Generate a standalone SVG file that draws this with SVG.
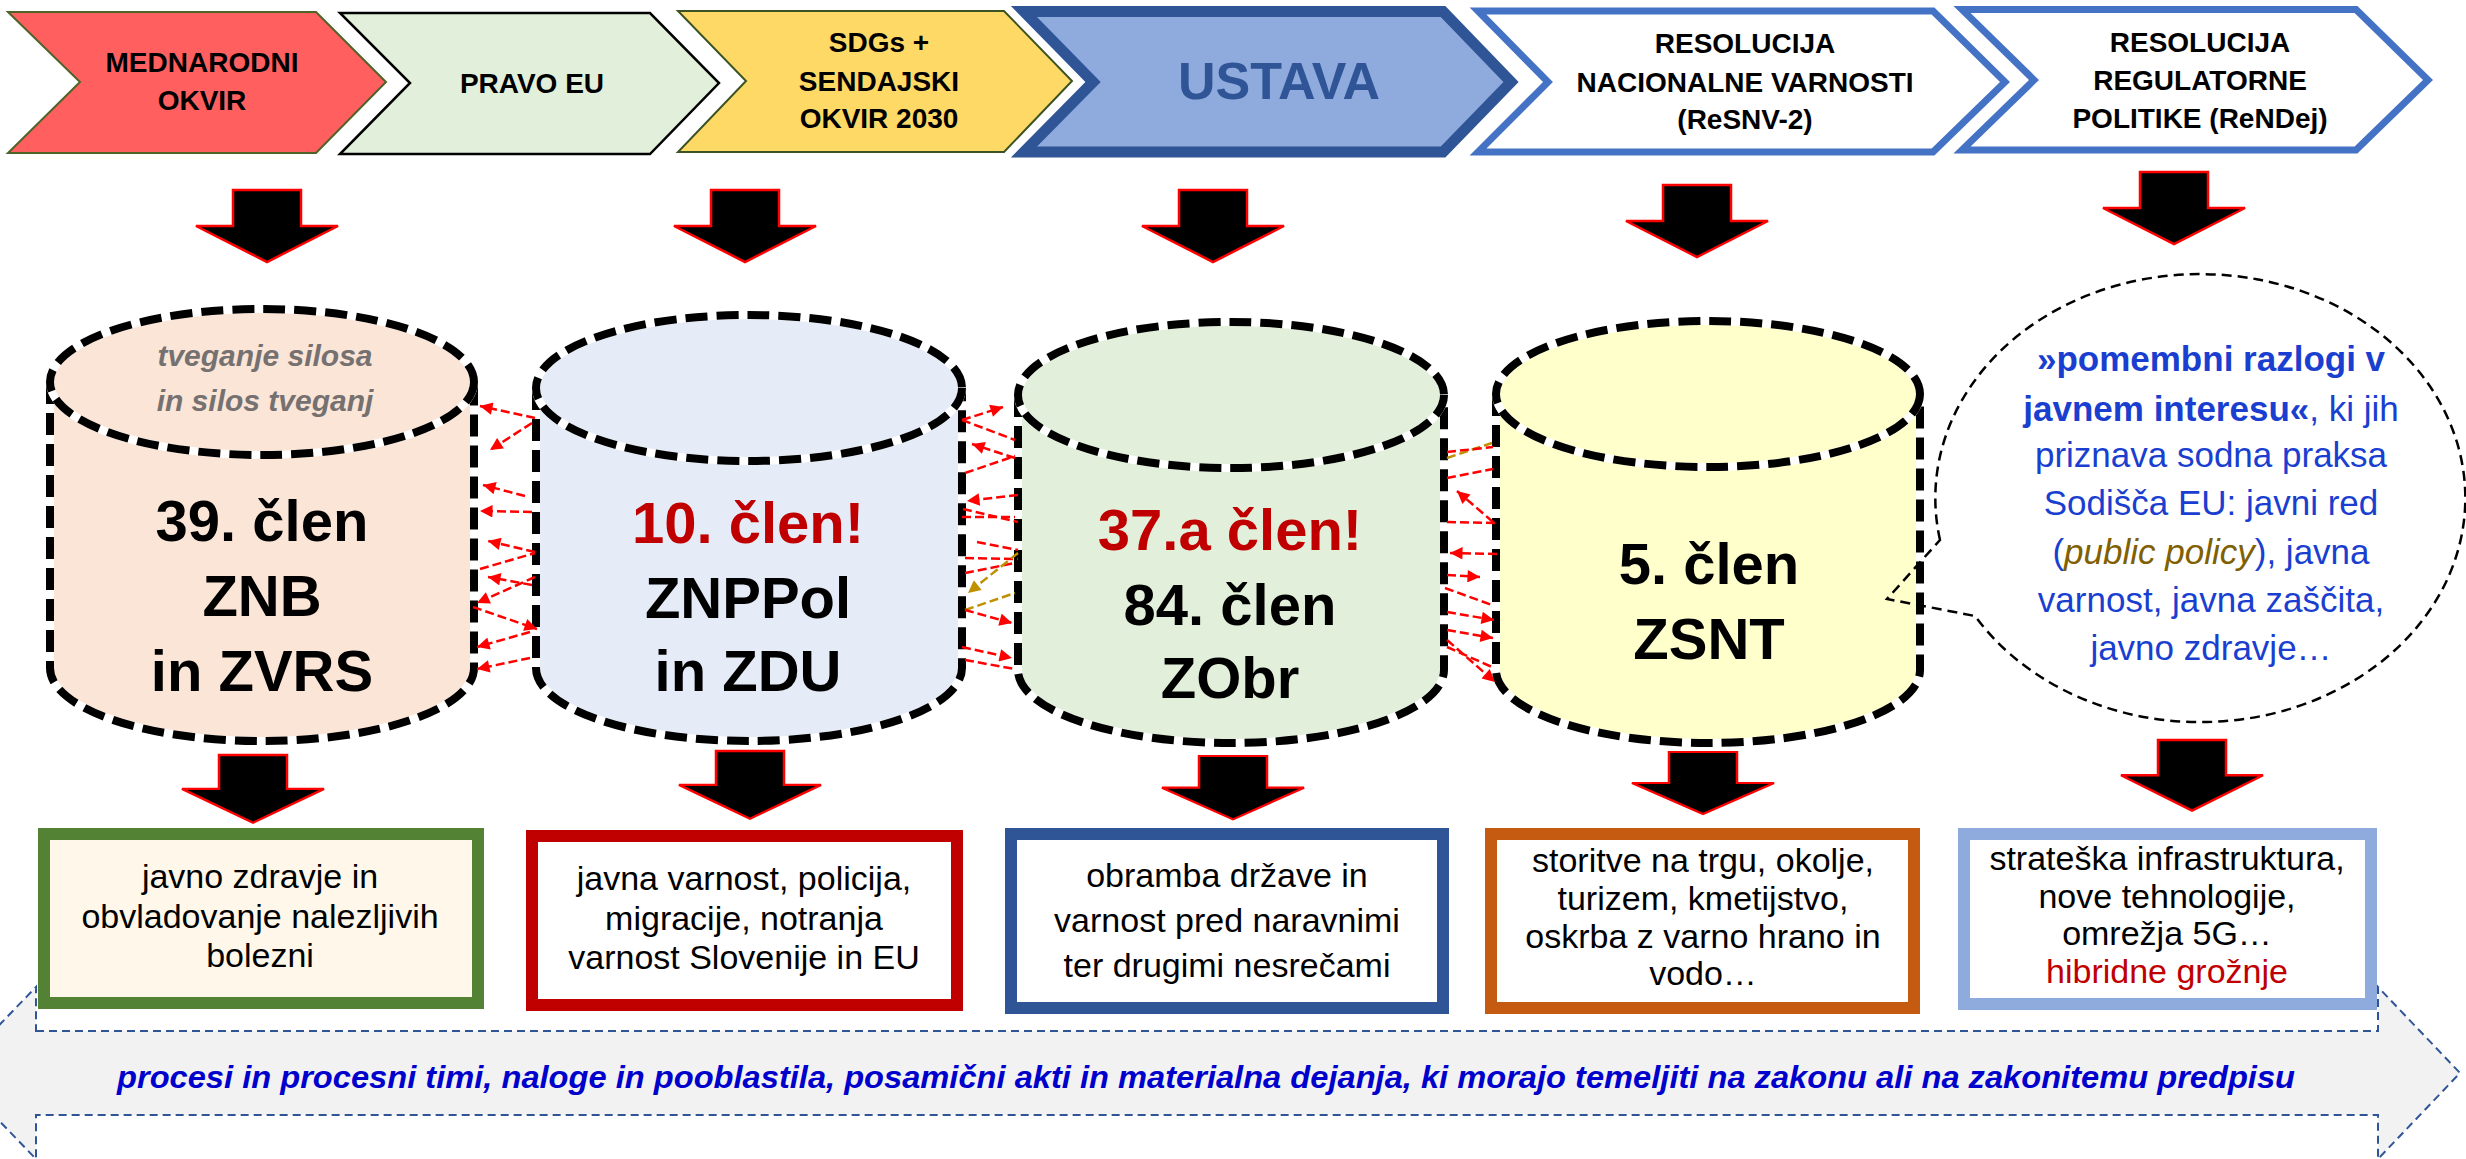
<svg xmlns="http://www.w3.org/2000/svg" xmlns:xlink="http://www.w3.org/1999/xlink" width="2466" height="1159" viewBox="0 0 2466 1159">
<style>
text{font-family:"Liberation Sans",Arial,sans-serif;text-anchor:middle}
.ch{font-weight:bold;font-size:28px;fill:#000}
.cy{font-weight:bold;font-size:58px;fill:#000}
.gr{font-weight:bold;font-style:italic;font-size:30px;fill:#767171}
.bx{font-size:34px;fill:#000}
.cl{font-size:35px;fill:#1A3FD0}
text.red{fill:#C00000}
.cylfill{stroke:none}
.cylw{fill:none;stroke:#fff;stroke-width:8}
.cyld{fill:none;stroke:#000;stroke-width:8;stroke-dasharray:22 9}
.blk{fill:#000;stroke:#FF0000;stroke-width:2.5;stroke-linejoin:miter}
.rc{fill:none;stroke:#FF0000;stroke-width:2.5;stroke-dasharray:9 4}
.oc{fill:none;stroke:#BF9000;stroke-width:2.5;stroke-dasharray:9 4}
.rh{marker-end:url(#ah)}
.oh{marker-end:url(#aho)}
.box{stroke-width:12}
</style>
<defs>
<marker id="ah" viewBox="0 0 10 10" refX="10" refY="5" markerWidth="5.5" markerHeight="5" orient="auto"><path d="M0,0 L10,5 L0,10 z" fill="#FF0000"/></marker>
<marker id="aho" viewBox="0 0 10 10" refX="10" refY="5" markerWidth="5.5" markerHeight="5" orient="auto"><path d="M0,0 L10,5 L0,10 z" fill="#BF9000"/></marker>
<path id="darr" class="blk" d="M-34,0 H34 V36 H71 L0,72 L-71,36 H-34 Z"/>
</defs>
<rect width="2466" height="1159" fill="#fff"/>

<!-- top chevrons -->
<g id="chev1">
<path d="M8,12 H316 L386,82 L316,153 H8 L80,82 Z" fill="#FF5F5F" stroke="#4F6228" stroke-width="2"/>
<text class="ch" x="202" y="72">MEDNARODNI</text>
<text class="ch" x="202" y="110">OKVIR</text>
</g>
<g id="chev2">
<path d="M340,13 H650 L719,83 L650,154 H340 L410,83 Z" fill="#E2EFDA" stroke="#000" stroke-width="2.5"/>
<text class="ch" x="532" y="93">PRAVO EU</text>
</g>
<g id="chev3">
<path d="M678,11 H1004 L1072,81 L1004,152 H678 L746,81 Z" fill="#FFD966" stroke="#3B5323" stroke-width="2"/>
<text class="ch" x="879" y="52">SDGs +</text>
<text class="ch" x="879" y="91">SENDAJSKI</text>
<text class="ch" x="879" y="128">OKVIR 2030</text>
</g>
<g id="chev4">
<path d="M1024,11.5 H1443 L1511,82 L1443,152 H1024 L1093,82 Z" fill="#8FAADC" stroke="#2F5597" stroke-width="11"/>
<text x="1279" y="99" font-weight="bold" font-size="52" fill="#2F5597">USTAVA</text>
</g>
<g id="chev5">
<path d="M1478,11 H1933 L2005,82 L1933,152 H1478 L1548,82 Z" fill="#fff" stroke="#4472C4" stroke-width="7"/>
<text class="ch" x="1745" y="53">RESOLUCIJA</text>
<text class="ch" x="1745" y="92">NACIONALNE VARNOSTI</text>
<text class="ch" x="1745" y="129">(ReSNV-2)</text>
</g>
<g id="chev6">
<path d="M1962,9.5 H2356 L2428,80 L2356,150 H1962 L2034,80 Z" fill="#fff" stroke="#4472C4" stroke-width="7"/>
<text class="ch" x="2200" y="52">RESOLUCIJA</text>
<text class="ch" x="2200" y="90">REGULATORNE</text>
<text class="ch" x="2200" y="128">POLITIKE (ReNDej)</text>
</g>

<!-- block arrows row 1 -->
<g id="arrows1">
<use xlink:href="#darr" x="267" y="190"/>
<use xlink:href="#darr" x="745" y="190"/>
<use xlink:href="#darr" x="1213" y="190"/>
<use xlink:href="#darr" x="1697" y="185"/>
<use xlink:href="#darr" x="2174" y="172"/>
</g>

<!-- cylinders -->
<g id="cyl1">
<path class="cylfill" fill="#FBE5D6" d="M50,382 V668 A212,73 0 0 0 474,668 V382 A212,73 0 0 0 50,382 Z"/>
<path class="cylw" d="M50,382 V668 A212,73 0 0 0 474,668 V382"/>
<path class="cyld" d="M50,382 V668 A212,73 0 0 0 474,668 V382"/>
<ellipse class="cylw" cx="262" cy="382" rx="212" ry="73"/>
<ellipse class="cyld" cx="262" cy="382" rx="212" ry="73"/>
<text class="gr" x="265" y="366">tveganje silosa</text>
<text class="gr" x="265" y="411">in silos tveganj</text>
<text class="cy" x="262" y="541">39. člen</text>
<text class="cy" x="262" y="616">ZNB</text>
<text class="cy" x="262" y="691">in ZVRS</text>
</g>
<g id="cyl2">
<path class="cylfill" fill="#E6ECF7" d="M536,388 V668 A213,73 0 0 0 962,668 V388 A213,73 0 0 0 536,388 Z"/>
<path class="cylw" d="M536,388 V668 A213,73 0 0 0 962,668 V388"/>
<path class="cyld" d="M536,388 V668 A213,73 0 0 0 962,668 V388"/>
<ellipse class="cylw" cx="749" cy="388" rx="213" ry="73"/>
<ellipse class="cyld" cx="749" cy="388" rx="213" ry="73"/>
<text class="cy red" x="748" y="543">10. člen!</text>
<text class="cy" x="748" y="618">ZNPPol</text>
<text class="cy" x="748" y="691">in ZDU</text>
</g>
<g id="cyl3">
<path class="cylfill" fill="#E2EFDA" d="M1018,395 V670 A213,73 0 0 0 1444,670 V395 A213,73 0 0 0 1018,395 Z"/>
<path class="cylw" d="M1018,395 V670 A213,73 0 0 0 1444,670 V395"/>
<path class="cyld" d="M1018,395 V670 A213,73 0 0 0 1444,670 V395"/>
<ellipse class="cylw" cx="1231" cy="395" rx="213" ry="73"/>
<ellipse class="cyld" cx="1231" cy="395" rx="213" ry="73"/>
<text class="cy red" x="1230" y="550">37.a člen!</text>
<text class="cy" x="1230" y="625">84. člen</text>
<text class="cy" x="1230" y="698">ZObr</text>
</g>
<g id="cyl4">
<path class="cylfill" fill="#FFFFCC" d="M1496,394 V670 A212,73 0 0 0 1920,670 V394 A212,73 0 0 0 1496,394 Z"/>
<path class="cylw" d="M1496,394 V670 A212,73 0 0 0 1920,670 V394"/>
<path class="cyld" d="M1496,394 V670 A212,73 0 0 0 1920,670 V394"/>
<ellipse class="cylw" cx="1708" cy="394" rx="212" ry="73"/>
<ellipse class="cyld" cx="1708" cy="394" rx="212" ry="73"/>
<text class="cy" x="1709" y="584">5. člen</text>
<text class="cy" x="1709" y="659">ZSNT</text>
</g>

<!-- callout -->
<g id="callout">
<path d="M1940,540 A265,224 0 1 1 1975,616 L1887,599 Z" fill="none" stroke="#000" stroke-width="2.5" stroke-dasharray="10 6"/>
<text class="cl" x="2211" y="371" font-weight="bold">»pomembni razlogi v</text>
<text class="cl" x="2211" y="421"><tspan font-weight="bold">javnem interesu«</tspan>, ki jih</text>
<text class="cl" x="2211" y="467">priznava sodna praksa</text>
<text class="cl" x="2211" y="515">Sodišča EU: javni red</text>
<text class="cl" x="2211" y="564">(<tspan font-style="italic" fill="#806000">public policy</tspan>), javna</text>
<text class="cl" x="2211" y="612">varnost, javna zaščita,</text>
<text class="cl" x="2211" y="660">javno zdravje…</text>
</g>

<!-- connectors between cylinders -->
<g id="connectors">
<line class="rc rh" x1="535" y1="418" x2="480" y2="406"/>
<line class="rc rh" x1="532" y1="423" x2="490" y2="450"/>
<line class="rc rh" x1="525" y1="496" x2="483" y2="485"/>
<line class="rc rh" x1="532" y1="512" x2="480" y2="511"/>
<line class="rc rh" x1="535" y1="552" x2="488" y2="541"/>
<line class="rc" x1="480" y1="569" x2="535" y2="553"/>
<line class="rc rh" x1="532" y1="585" x2="488" y2="577"/>
<line class="rc rh" x1="535" y1="577" x2="477" y2="603"/>
<line class="rc rh" x1="473" y1="607" x2="537" y2="629"/>
<line class="rc rh" x1="530" y1="632" x2="477" y2="647"/>
<line class="rc rh" x1="530" y1="658" x2="477" y2="669"/>

<line class="rc rh" x1="962" y1="420" x2="1003" y2="407"/>
<line class="rc" x1="962" y1="420" x2="1015" y2="440"/>
<line class="rc rh" x1="1015" y1="458" x2="972" y2="444"/>
<line class="rc" x1="965" y1="473" x2="1015" y2="456"/>
<line class="rc rh" x1="1018" y1="495" x2="967" y2="501"/>
<line class="rc" x1="963" y1="509" x2="1018" y2="522"/>
<line class="rc" x1="962" y1="517" x2="1015" y2="517"/>
<line class="rc" x1="977" y1="542" x2="1018" y2="550"/>
<line class="rc" x1="965" y1="558" x2="1018" y2="559"/>
<line class="rc" x1="965" y1="573" x2="1015" y2="563"/>
<line class="oc oh" x1="1018" y1="553" x2="968" y2="593"/>
<line class="oc" x1="965" y1="610" x2="1015" y2="593"/>
<line class="rc rh" x1="965" y1="610" x2="1012" y2="623"/>
<line class="rc rh" x1="962" y1="647" x2="1012" y2="658"/>
<line class="rc" x1="965" y1="660" x2="1015" y2="669"/>

<line class="oc" x1="1447" y1="458" x2="1492" y2="443"/>
<line class="rc" x1="1447" y1="452" x2="1493" y2="447"/>
<line class="rc" x1="1447" y1="478" x2="1493" y2="469"/>
<line class="rc rh" x1="1493" y1="522" x2="1457" y2="491"/>
<line class="rc" x1="1447" y1="522" x2="1495" y2="523"/>
<line class="rc rh" x1="1497" y1="554" x2="1450" y2="553"/>
<line class="rc rh" x1="1447" y1="575" x2="1480" y2="577"/>
<line class="rc" x1="1445" y1="588" x2="1492" y2="605"/>
<line class="rc rh" x1="1447" y1="612" x2="1494" y2="620"/>
<line class="rc rh" x1="1447" y1="630" x2="1493" y2="638"/>
<line class="rc rh" x1="1447" y1="640" x2="1495" y2="682"/>
<line class="rc" x1="1447" y1="647" x2="1492" y2="667"/>
</g>

<!-- block arrows row 2 -->
<g id="arrows2">
<use xlink:href="#darr" transform="translate(253,755) scale(1,0.94)"/>
<use xlink:href="#darr" transform="translate(750,751) scale(1,0.94)"/>
<use xlink:href="#darr" transform="translate(1233,756) scale(1,0.88)"/>
<use xlink:href="#darr" transform="translate(1703,752) scale(1,0.86)"/>
<use xlink:href="#darr" transform="translate(2192,740) scale(1,0.98)"/>
</g>

<!-- bottom boxes -->
<g id="box1">
<rect class="box" x="44" y="834" width="434" height="169" fill="#FFF8EA" stroke="#548235"/>
<text class="bx" x="260" y="888">javno zdravje in</text>
<text class="bx" x="260" y="928">obvladovanje nalezljivih</text>
<text class="bx" x="260" y="967">bolezni</text>
</g>
<g id="box2">
<rect class="box" x="532" y="836" width="425" height="169" fill="#fff" stroke="#C00000"/>
<text class="bx" x="744" y="890">javna varnost, policija,</text>
<text class="bx" x="744" y="930">migracije, notranja</text>
<text class="bx" x="744" y="969">varnost Slovenije in EU</text>
</g>
<g id="box3">
<rect class="box" x="1011" y="834" width="432" height="174" fill="#fff" stroke="#2F5597"/>
<text class="bx" x="1227" y="887">obramba države in</text>
<text class="bx" x="1227" y="932">varnost pred naravnimi</text>
<text class="bx" x="1227" y="977">ter drugimi nesrečami</text>
</g>
<g id="box4">
<rect class="box" x="1491" y="834" width="423" height="174" fill="#fff" stroke="#C55A11"/>
<text class="bx" x="1703" y="872">storitve na trgu, okolje,</text>
<text class="bx" x="1703" y="910">turizem, kmetijstvo,</text>
<text class="bx" x="1703" y="948">oskrba z varno hrano in</text>
<text class="bx" x="1703" y="985">vodo…</text>
</g>
<g id="box5">
<rect class="box" x="1964" y="834" width="407" height="170" fill="#fff" stroke="#8FAADC"/>
<text class="bx" x="2167" y="870">strateška infrastruktura,</text>
<text class="bx" x="2167" y="908">nove tehnologije,</text>
<text class="bx" x="2167" y="945">omrežja 5G…</text>
<text class="bx red" x="2167" y="983">hibridne grožnje</text>
</g>

<!-- bottom banner -->
<g id="banner">
<path d="M36,1031 H2378 V987 L2460,1073 L2378,1159 V1115 H36 V1159 L-47,1073 L36,987 Z" fill="#F2F2F2" stroke="#2F5597" stroke-width="2" stroke-dasharray="8 5"/>
<text x="1206" y="1088" font-weight="bold" font-style="italic" font-size="32" fill="#0000CC" textLength="2178" lengthAdjust="spacingAndGlyphs">procesi in procesni timi, naloge in pooblastila, posamični akti in materialna dejanja, ki morajo temeljiti na zakonu ali na zakonitemu predpisu</text>
</g>
</svg>
